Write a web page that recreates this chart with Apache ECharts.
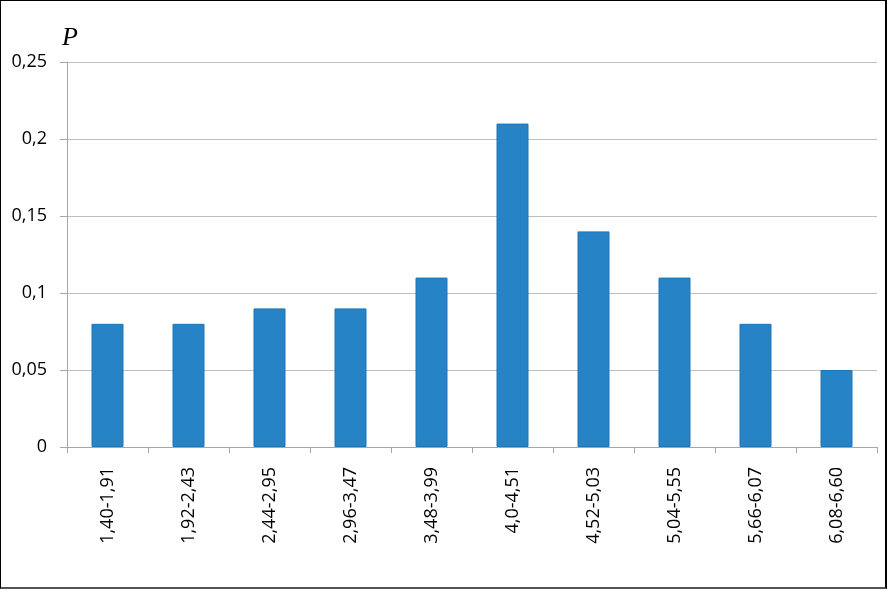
<!DOCTYPE html>
<html>
<head>
<meta charset="utf-8">
<script src="https://cdn.jsdelivr.net/npm/echarts@6/dist/echarts.min.js"></script>
<style>
  html, body { margin: 0; padding: 0; background: #fff; }
  #frame {
    position: absolute; left: 0; top: 0;
    width: 884px; height: 586px;
    border-left: 1px solid #000;
    border-top: 1px solid #000;
    border-right: 2px solid #000;
    border-bottom: 2px solid #555;
  }
  #chart { position: absolute; left: 0; top: 0; width: 887px; height: 590px; }
</style>
</head>
<body>
<div id="frame"></div>
<div id="chart"></div>
<script>
const categories = ['1,40-1,91', '1,92-2,43', '2,44-2,95', '2,96-3,47', '3,48-3,99',
  '4,0-4,51', '4,52-5,03', '5,04-5,55', '5,66-6,07', '6,08-6,60']
const values = [0.08, 0.08, 0.09, 0.09, 0.11, 0.21, 0.14, 0.11, 0.08, 0.05]

const chart = echarts.init(document.getElementById('chart'))
const font = '"Open Sans", "Liberation Sans", sans-serif'

chart.setOption({
  animation: false,
  grid: { left: 67, right: 10, top: 62, bottom: 143 },
  title: {
    text: 'P',
    left: 57,
    top: 20,
    textStyle: { fontFamily: '"Liberation Serif", serif', fontStyle: 'italic', fontWeight: 'normal', fontSize: 26, color: '#000' },
  },
  xAxis: {
    type: 'category',
    data: categories,
    axisLine: { lineStyle: { color: '#a6a6a6' } },
    axisTick: { show: true, length: 6, lineStyle: { color: '#a6a6a6' } },
    axisLabel: { rotate: 90, margin: 20, color: '#000', fontFamily: font, fontSize: 18 },
  },
  yAxis: {
    type: 'value',
    min: 0,
    max: 0.25,
    interval: 0.05,
    axisLine: { show: true, lineStyle: { color: '#a6a6a6' } },
    axisTick: { show: true, length: 7, lineStyle: { color: '#a6a6a6' } },
    splitLine: { lineStyle: { color: '#bfbfbf' } },
    axisLabel: {
      margin: 20,
      color: '#000',
      fontFamily: font,
      fontSize: 18,
      formatter: (v) => String(Math.round(v * 100) / 100).replace('.', ','),
    },
  },
  series: [{
    type: 'bar',
    data: values,
    barWidth: 32,
    itemStyle: { color: '#2683c6', borderColor: '#1f75b5', borderWidth: 1 },
  }],
})
</script>
</body>
</html>
